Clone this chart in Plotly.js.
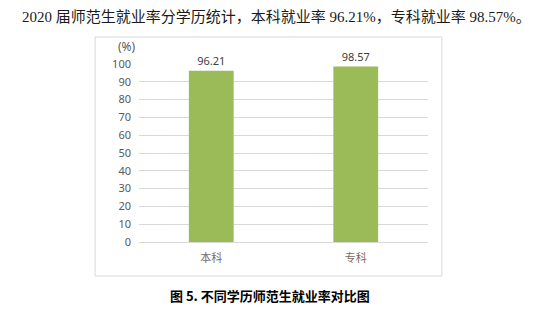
<!DOCTYPE html>
<html><head><meta charset="utf-8">
<script src="https://cdn.plot.ly/plotly-3.0.1.min.js"></script>
<style>html,body{margin:0;padding:0;background:#fff;}</style>
</head><body>
<div id="chart" style="width:552px;height:314px;"></div>
<script>
var categories = ["本科", "专科"];
var rates = [96.21, 98.57];
var rateLabels = ["96.21", "98.57"];
var yTicks = [0, 10, 20, 30, 40, 50, 60, 70, 80, 90, 100];
var headline = "2020 届师范生就业率分学历统计，本科就业率 96.21%，专科就业率 98.57%。";
var caption = "图 5. 不同学历师范生就业率对比图";
var unitLabel = "(%)";

var trace = {
  type: "bar",
  x: categories,
  y: rates,
  text: rateLabels,
  textposition: "outside",
  cliponaxis: false,
  textfont: {family: "Noto Sans, Noto Sans CJK SC", size: 11, color: "#404040"},
  marker: {color: "#9BBB59"},
  hoverinfo: "none"
};

var layout = {
  width: 552, height: 314,
  margin: {l: 139, r: 124, t: 64, b: 72},
  paper_bgcolor: "#ffffff", plot_bgcolor: "#ffffff",
  showlegend: false,
  bargap: 0.69,
  font: {family: "Noto Sans, Noto Sans CJK SC", size: 11, color: "#595959"},
  xaxis: {
    type: "category",
    showgrid: false, zeroline: false,
    showline: true, linecolor: "#d9d9d9", linewidth: 1,
    ticks: "", ticklabelstandoff: 6,
    tickfont: {family: "Noto Sans CJK SC", size: 11, color: "#7a6a60"}
  },
  yaxis: {
    range: [0, 100], tickvals: yTicks, ticktext: yTicks.map(String),
    showgrid: true, gridcolor: "#d9d9d9", gridwidth: 1,
    zeroline: false, showline: false, ticks: "",
    ticklabelstandoff: 7,
    tickfont: {family: "Noto Sans", size: 11, color: "#595959"}
  },
  shapes: [{
    type: "rect", xref: "paper", yref: "paper",
    x0: -0.152, x1: 1.048, y0: -0.191, y1: 1.152,
    line: {color: "#d9d9d9", width: 1}, fillcolor: "rgba(0,0,0,0)", layer: "below"
  }],
  annotations: [
    {text: headline, xref: "paper", yref: "paper", x: 0.475, y: 1.264,
     xanchor: "center", yanchor: "middle", showarrow: false,
     font: {family: "Liberation Serif, Noto Sans CJK SC", size: 15, color: "#1a1a1a"}},
    {text: unitLabel, xref: "paper", yref: "paper", x: -0.043, y: 1.098,
     xanchor: "center", yanchor: "middle", showarrow: false,
     font: {family: "Noto Sans", size: 12, color: "#595959"}},
    {text: "<b>" + caption + "</b>", xref: "paper", yref: "paper", x: 0.455, y: -0.298,
     xanchor: "center", yanchor: "middle", showarrow: false,
     font: {family: "Noto Sans CJK SC", size: 13, color: "#000000"}}
  ]
};

Plotly.newPlot("chart", [trace], layout, {displayModeBar: false, staticPlot: true});
</script>
</body></html>
